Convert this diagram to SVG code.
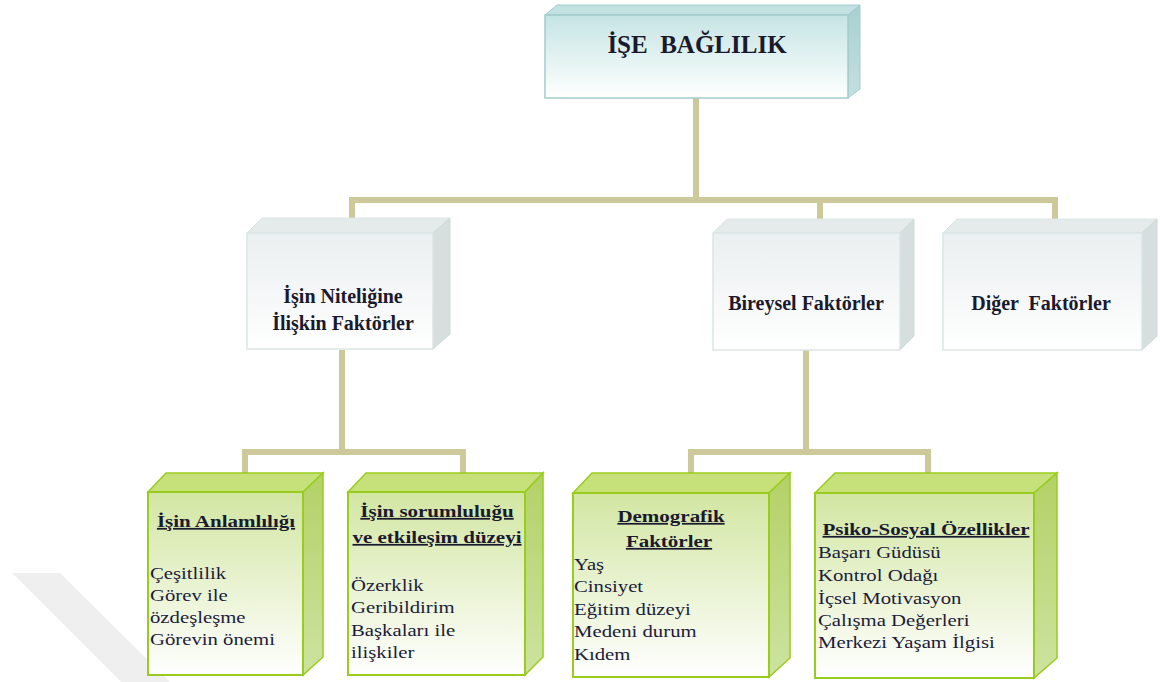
<svg xmlns="http://www.w3.org/2000/svg" width="1160" height="682" viewBox="0 0 1160 682">
<style>
.bg{fill:#ffffff}
.wm{fill:#efefef}
.con{fill:none;stroke:#cdc99a;stroke-width:6;stroke-linecap:butt;stroke-linejoin:miter}
.tfront{fill:url(#gTeal);stroke:#a3cccc;stroke-width:1.5}
.ttop{fill:#c3e1e1;stroke:#a3cccc;stroke-width:1}
.tside{fill:url(#gTealSide);stroke:#a3cccc;stroke-width:1}
.mfront{fill:url(#gGrey);stroke:#dce5e5;stroke-width:1.5}
.mtop{fill:#e5ebeb;stroke:#dce5e5;stroke-width:1}
.mside{fill:#d6dede;stroke:#d0d9d9;stroke-width:1}
.gfront{fill:url(#gGreen);stroke:#99cc1e;stroke-width:2}
.gtop{fill:#c6e17a;stroke:#99cc1e;stroke-width:1.5}
.gside{fill:url(#gGreenSide);stroke:#99cc1e;stroke-width:1.5}
.t-main{font-family:"Liberation Serif","Times New Roman",serif;font-weight:bold;font-size:25px;fill:#1a1a2e}
.t-mid{font-family:"Liberation Serif","Times New Roman",serif;font-weight:bold;font-size:20px;fill:#1a1a2e}
.t-head{font-family:"Liberation Serif","Times New Roman",serif;font-weight:bold;font-size:17.5px;fill:#1a1a2e;text-decoration:underline}
.t-list{font-family:"Liberation Serif","Times New Roman",serif;font-size:17px;fill:#1c1c3a}
</style>
<defs>
<linearGradient id="gTeal" x1="0" y1="0" x2="0" y2="1">
<stop offset="0" stop-color="#c6e4e4"/>
<stop offset="1" stop-color="#ffffff"/>
</linearGradient>
<linearGradient id="gTealSide" x1="0" y1="0" x2="0" y2="1">
<stop offset="0" stop-color="#a8d0d0"/>
<stop offset="1" stop-color="#c4e0e0"/>
</linearGradient>
<linearGradient id="gGrey" x1="0" y1="0" x2="0" y2="1">
<stop offset="0" stop-color="#eaeff0"/>
<stop offset="1" stop-color="#ffffff"/>
</linearGradient>
<linearGradient id="gGreen" x1="0" y1="0" x2="0" y2="1">
<stop offset="0" stop-color="#d2e6a2"/>
<stop offset="1" stop-color="#ffffff"/>
</linearGradient>
<linearGradient id="gGreenSide" x1="0" y1="0" x2="0" y2="1">
<stop offset="0" stop-color="#b3d166"/>
<stop offset="1" stop-color="#cde3a0"/>
</linearGradient>
</defs>
<rect class="bg" x="0" y="0" width="1160" height="682"/>
<polygon class="wm" points="12,573 60,573 170,682 121,682"/>

<g id="connectors">
<path class="con" d="M696 98 V200 M352 200 H1055 M352 197 V222 M820 197 V222 M1055 197 V222"/>
<path class="con" d="M342 350 V452 M245 452 H463 M245 449 V476 M463 449 V476"/>
<path class="con" d="M806 350 V452 M691 452 H928 M691 449 V476 M928 449 V476"/>
</g>

<g id="node-ise-baglilik">
<polygon class="ttop" points="545,15 557,5 860,5 848,15"/>
<polygon class="tside" points="848,15 860,5 860,89 848,98"/>
<rect class="tfront" x="545" y="15" width="303" height="83"/>
<text class="t-main" x="697" y="53" text-anchor="middle" xml:space="preserve">İŞE  BAĞLILIK</text>
</g>

<g id="node-isin-niteligine">
<polygon class="mtop" points="247,233 262,218 450,218 433,233"/>
<polygon class="mside" points="433,233 450,218 450,334 433,349"/>
<rect class="mfront" x="247" y="233" width="186" height="116"/>
<text class="t-mid" text-anchor="middle"><tspan x="343" y="303">İşin Niteliğine</tspan><tspan x="343" y="330">İlişkin Faktörler</tspan></text>
</g>

<g id="node-bireysel">
<polygon class="mtop" points="713,233 727,219 914,219 900,233"/>
<polygon class="mside" points="900,233 914,219 914,336 900,350"/>
<rect class="mfront" x="713" y="233" width="187" height="117"/>
<text class="t-mid" x="806" y="310" text-anchor="middle">Bireysel Faktörler</text>
</g>

<g id="node-diger">
<polygon class="mtop" points="943,233 957,219 1157,219 1142,233"/>
<polygon class="mside" points="1142,233 1157,219 1157,336 1142,350"/>
<rect class="mfront" x="943" y="233" width="199" height="117"/>
<text class="t-mid" x="1041" y="310" text-anchor="middle" xml:space="preserve">Diğer  Faktörler</text>
</g>

<g id="node-isin-anlamliligi">
<polygon class="gtop" points="148,492 166,473 323,473 303,492"/>
<polygon class="gside" points="303,492 323,473 323,657 303,675"/>
<rect class="gfront" x="148" y="492" width="155" height="183"/>
<text class="t-head" transform="translate(226 527) scale(1.2 1)" text-anchor="middle">İşin Anlamlılığı</text>
<text class="t-list" transform="translate(150 0) scale(1.22 1)"><tspan x="0" y="579">Çeşitlilik</tspan><tspan x="0" y="601">Görev ile</tspan><tspan x="0" y="623">özdeşleşme</tspan><tspan x="0" y="645">Görevin önemi</tspan></text>
</g>

<g id="node-isin-sorumlulugu">
<polygon class="gtop" points="348,492 366,473 543,473 525,492"/>
<polygon class="gside" points="525,492 543,473 543,657 525,675"/>
<rect class="gfront" x="348" y="492" width="177" height="183"/>
<text class="t-head" transform="translate(437 517) scale(1.2 1)" text-anchor="middle">İşin sorumluluğu</text>
<text class="t-head" transform="translate(437 543) scale(1.2 1)" text-anchor="middle">ve etkileşim düzeyi</text>
<text class="t-list" transform="translate(351 0) scale(1.22 1)"><tspan x="0" y="591">Özerklik</tspan><tspan x="0" y="613">Geribildirim</tspan><tspan x="0" y="636">Başkaları ile</tspan><tspan x="0" y="658">ilişkiler</tspan></text>
</g>

<g id="node-demografik">
<polygon class="gtop" points="573,493 592,473 790,473 769,493"/>
<polygon class="gside" points="769,493 790,473 790,658 769,677"/>
<rect class="gfront" x="573" y="493" width="196" height="184"/>
<text class="t-head" transform="translate(671 522) scale(1.2 1)" text-anchor="middle">Demografik</text>
<text class="t-head" transform="translate(669 547) scale(1.2 1)" text-anchor="middle">Faktörler</text>
<text class="t-list" transform="translate(574 0) scale(1.22 1)"><tspan x="0" y="570">Yaş</tspan><tspan x="0" y="592">Cinsiyet</tspan><tspan x="0" y="615">Eğitim düzeyi</tspan><tspan x="0" y="637">Medeni durum</tspan><tspan x="0" y="660">Kıdem</tspan></text>
</g>

<g id="node-psiko-sosyal">
<polygon class="gtop" points="815,493 835,473 1057,473 1034,493"/>
<polygon class="gside" points="1034,493 1057,473 1057,658 1034,678"/>
<rect class="gfront" x="815" y="493" width="219" height="185"/>
<text class="t-head" transform="translate(926 535) scale(1.2 1)" text-anchor="middle">Psiko-Sosyal Özellikler</text>
<text class="t-list" transform="translate(818 0) scale(1.22 1)"><tspan x="0" y="558">Başarı Güdüsü</tspan><tspan x="0" y="581">Kontrol Odağı</tspan><tspan x="0" y="604">İçsel Motivasyon</tspan><tspan x="0" y="626">Çalışma Değerleri</tspan><tspan x="0" y="648">Merkezi Yaşam İlgisi</tspan></text>
</g>
</svg>
